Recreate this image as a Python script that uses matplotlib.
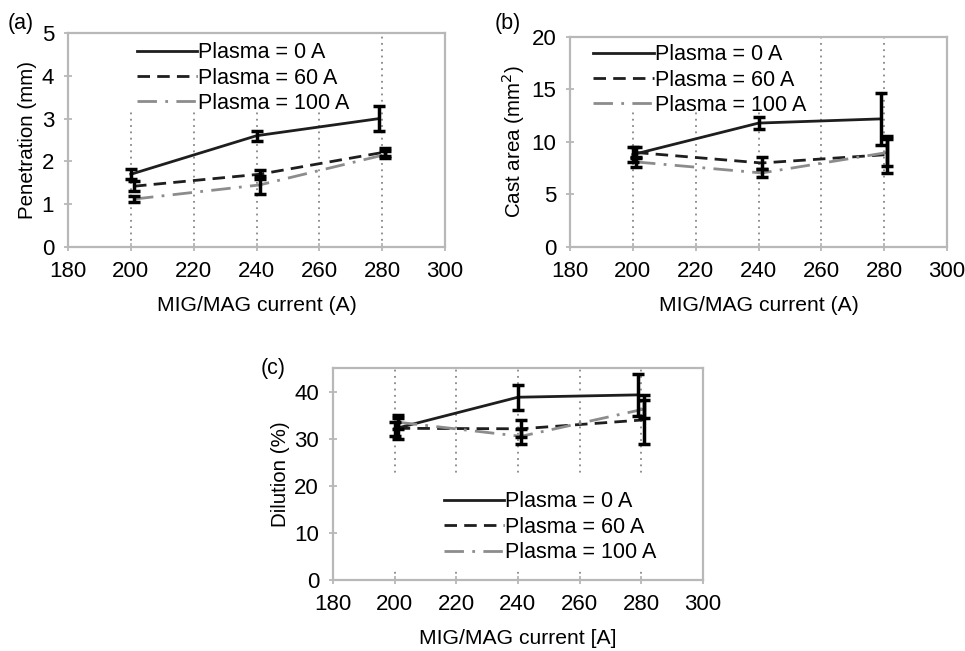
import matplotlib.pyplot as plt
from matplotlib.patches import Rectangle

plt.rcParams['font.family'] = ['Liberation Sans', 'DejaVu Sans']
plt.rcParams['font.size'] = 16

# MIG/MAG current positions (slightly staggered as in the original)
x_p0 = [200, 240, 279]
x_p60 = [201, 241, 281]
x_p100 = [201, 241, 281]
series_labels = ["Plasma = 0 A", "Plasma = 60 A", "Plasma = 100 A"]

# (a) penetration (mm)
pen_p0 = [1.7, 2.6, 3.0]
pen_p0_err = [0.12, 0.12, 0.3]
pen_p60 = [1.42, 1.7, 2.22]
pen_p60_err = [0.12, 0.1, 0.1]
pen_p100 = [1.12, 1.45, 2.16]
pen_p100_err = [0.08, 0.22, 0.08]

# (b) cast area (mm2)
area_p0 = [8.8, 11.8, 12.2]
area_p0_err = [0.7, 0.55, 2.45]
area_p60 = [9.0, 8.0, 8.8]
area_p60_err = [0.5, 0.6, 1.8]
area_p100 = [8.1, 7.05, 9.0]
area_p100_err = [0.5, 0.4, 1.3]

# (c) dilution (%)
dil_p0 = [32.1, 38.8, 39.3]
dil_p0_err = [1.5, 2.7, 4.4]
dil_p60 = [32.2, 32.1, 34.0]
dil_p60_err = [2.2, 1.8, 5.2]
dil_p100 = [33.5, 30.5, 36.3]
dil_p100_err = [1.5, 1.6, 2.0]

dark = '#1e1e1e'
grey = '#8c8c8c'
spine_c = '#b8b8b8'


def panel(ax, ys, errs, ylim, yticks, ylabel, xlabel, mask, leg_anchor, leg_loc):
    xs = [x_p0, x_p60, x_p100]
    styles = [dict(color=dark, ls='-'),
              dict(color=dark, ls=(0, (4.5, 2.6))),
              dict(color=grey, ls=(0, (7, 3, 1, 3)))]
    for x, y, lab, st in zip(xs, ys, series_labels, styles):
        ax.plot(x, y, lw=2, label=lab, zorder=3, **st)
    for x, y, e in zip(xs, ys, errs):
        ax.errorbar(x, y, yerr=e, fmt='none', ecolor='black', elinewidth=2.5,
                    capsize=4, capthick=2.5, zorder=4)
    ax.set_xlim(180, 300)
    ax.set_xticks(range(180, 301, 20))
    ax.set_ylim(*ylim)
    ax.set_yticks(yticks)
    ax.set_axisbelow(True)
    ax.grid(axis='x', ls=(0, (1, 2.5)), color='#888888', lw=1.3)
    ax.add_patch(Rectangle((mask[0], mask[1]), mask[2], mask[3], transform=ax.transAxes,
                           facecolor='white', edgecolor='none', zorder=1.5))
    for s in ax.spines.values():
        s.set_color(spine_c)
        s.set_linewidth(1.6)
    ax.tick_params(direction='inout', length=6, width=1.3, color=spine_c)
    ax.tick_params(axis='x', pad=7)
    ax.tick_params(axis='y', pad=7)
    ax.set_ylabel(ylabel, fontsize=14.8, labelpad=3)
    ax.set_xlabel(xlabel, fontsize=15.2, labelpad=10)
    ax.legend(loc=leg_loc, bbox_to_anchor=leg_anchor, frameon=False, fontsize=15.5,
              handlelength=2.8, handletextpad=0.05, labelspacing=0.2,
              borderaxespad=0, borderpad=0)


fig = plt.figure(figsize=(9.65, 6.51), dpi=100)
ax_a = fig.add_axes([0.0705, 0.6206, 0.3907, 0.3287])
ax_b = fig.add_axes([0.5907, 0.6206, 0.3907, 0.3226])
ax_c = fig.add_axes([0.3450, 0.1090, 0.3834, 0.3257])

panel(ax_a, [pen_p0, pen_p60, pen_p100], [pen_p0_err, pen_p60_err, pen_p100_err],
      (0, 5), range(0, 6), "Penetration (mm)", "MIG/MAG current (A)",
      (0.11, 0.64, 0.69, 0.36), (0.182, 0.957), 'upper left')
panel(ax_b, [area_p0, area_p60, area_p100], [area_p0_err, area_p60_err, area_p100_err],
      (0, 20), range(0, 21, 5), "Cast area (mm$^2$)", "MIG/MAG current (A)",
      (0.03, 0.65, 0.625, 0.35), (0.062, 0.965), 'upper left')
panel(ax_c, [dil_p0, dil_p60, dil_p100], [dil_p0_err, dil_p60_err, dil_p100_err],
      (0, 45), range(0, 41, 10), "Dilution (%)", "MIG/MAG current [A]",
      (0.10, 0.045, 0.85, 0.445), (0.30, 0.08), 'lower left')

fig.text(0.008, 0.955, "(a)", fontsize=15.5)
fig.text(0.513, 0.955, "(b)", fontsize=15.5)
fig.text(0.270, 0.426, "(c)", fontsize=15.5)

fig.savefig("out.png", dpi=100)
